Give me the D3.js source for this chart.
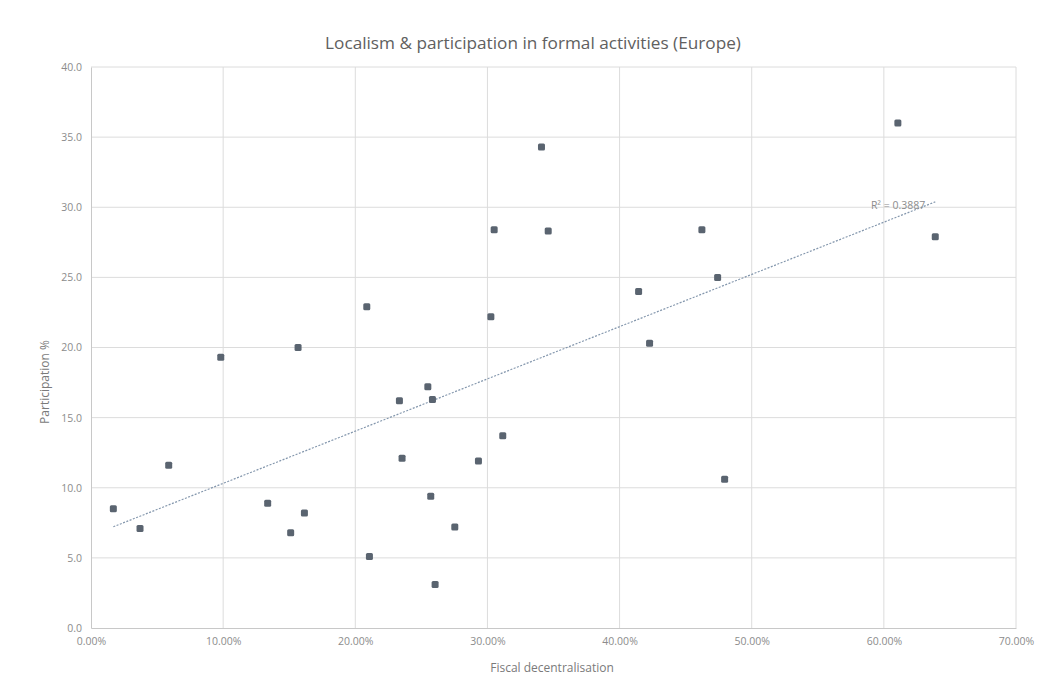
<!DOCTYPE html>
<html>
<head>
<meta charset="utf-8">
<script src="https://cdn.jsdelivr.net/npm/d3@7"></script>
<style>
  html, body { margin: 0; padding: 0; background: #ffffff; }
  svg { display: block; }
</style>
</head>
<body>
<svg id="chart" width="1043" height="682"></svg>
<script>
// ---- data ----
const fiscalDecentralisation = [1.69, 3.71, 5.88, 9.82, 13.37, 15.11, 15.67, 16.15, 20.87, 21.07,
  23.34, 23.54, 25.49, 25.71, 25.84, 26.04, 27.53, 29.32, 30.26, 30.51,
  31.16, 34.09, 34.60, 41.44, 42.27, 46.23, 47.42, 47.95, 61.06, 63.89];
const participation = [8.5, 7.1, 11.6, 19.3, 8.9, 6.8, 20.0, 8.2, 22.9, 5.1,
  16.2, 12.1, 17.2, 9.4, 16.3, 3.1, 7.2, 11.9, 22.2, 28.4,
  13.7, 34.3, 28.3, 24.0, 20.3, 28.4, 25.0, 10.6, 36.0, 27.9];
const xTicks = [0, 10, 20, 30, 40, 50, 60, 70];
const yTicks = [0, 5, 10, 15, 20, 25, 30, 35, 40];
const titleText = "Localism & participation in formal activities (Europe)";
const xTitle = "Fiscal decentralisation";
const yTitle = "Participation %";
const r2Label = "R\u00B2 = 0.3887";

// ---- layout ----
const svg = d3.select("#chart");
const font = "'Open Sans', 'Liberation Sans', sans-serif";
const x = d3.scaleLinear().domain([0, 70]).range([91, 1016]);
const y = d3.scaleLinear().domain([0, 40]).range([628, 67]);

// gridlines
svg.append("g").selectAll("line").data(yTicks.filter(d => d > 0)).join("line")
  .attr("x1", x(0)).attr("x2", x(70))
  .attr("y1", d => y(d)).attr("y2", d => y(d))
  .attr("stroke", "#dcdcdc").attr("stroke-width", 1);
svg.append("g").selectAll("line").data(xTicks.filter(d => d > 0)).join("line")
  .attr("x1", d => x(d)).attr("x2", d => x(d))
  .attr("y1", y(0)).attr("y2", y(40))
  .attr("stroke", "#dcdcdc").attr("stroke-width", 1);

// axes
const xAxis = d3.axisBottom(x).tickValues(xTicks).tickFormat(d => d3.format(".2f")(d) + "%").tickSize(0).tickPadding(10);
const yAxis = d3.axisLeft(y).tickValues(yTicks).tickFormat(d3.format(".1f")).tickSize(0).tickPadding(9);
const gx = svg.append("g").attr("transform", `translate(0,${y(0)})`).call(xAxis);
const gy = svg.append("g").attr("transform", `translate(${x(0)},0)`).call(yAxis);
[gx, gy].forEach(g => {
  g.select(".domain").attr("stroke", "#c8c8c8");
  g.selectAll("text").attr("fill", "#8c8c8c").style("font-family", font).style("font-size", "10.5px");
});

// titles
svg.append("text").attr("x", 533).attr("y", 49).attr("text-anchor", "middle")
  .style("font-family", font).style("font-size", "17.2px").attr("fill", "#606060").text(titleText);
svg.append("text").attr("x", 552).attr("y", 672).attr("text-anchor", "middle")
  .style("font-family", font).style("font-size", "12px").attr("fill", "#7a7a7a").text(xTitle);
svg.append("text").attr("transform", "translate(49,382) rotate(-90)").attr("text-anchor", "middle")
  .style("font-family", font).style("font-size", "12px").attr("fill", "#7a7a7a").text(yTitle);

// linear trendline computed from data
const n = fiscalDecentralisation.length;
const mx = d3.mean(fiscalDecentralisation), my = d3.mean(participation);
let sxy = 0, sxx = 0;
for (let i = 0; i < n; i++) {
  sxy += (fiscalDecentralisation[i] - mx) * (participation[i] - my);
  sxx += (fiscalDecentralisation[i] - mx) ** 2;
}
const slope = sxy / sxx, intercept = my - slope * mx;
const [x0, x1] = d3.extent(fiscalDecentralisation);
svg.append("line")
  .attr("x1", x(x0)).attr("y1", y(intercept + slope * x0))
  .attr("x2", x(x1)).attr("y2", y(intercept + slope * x1))
  .attr("stroke", "#8497ad").attr("stroke-width", 1.2).attr("stroke-dasharray", "2,1.5");
svg.append("text").attr("x", x(x1) - 10).attr("y", y(intercept + slope * x1) + 7)
  .attr("text-anchor", "end")
  .style("font-family", font).style("font-size", "10.5px").attr("fill", "#8c8c8c").text(r2Label);

// points
const pts = d3.range(n).map(i => ({ x: fiscalDecentralisation[i], y: participation[i] }));
svg.append("g").selectAll("rect").data(pts).join("rect")
  .attr("x", d => x(d.x) - 3.5).attr("y", d => y(d.y) - 3.5)
  .attr("width", 7).attr("height", 7).attr("rx", 1.5)
  .attr("fill", "#5a6470");
</script>
</body>
</html>
